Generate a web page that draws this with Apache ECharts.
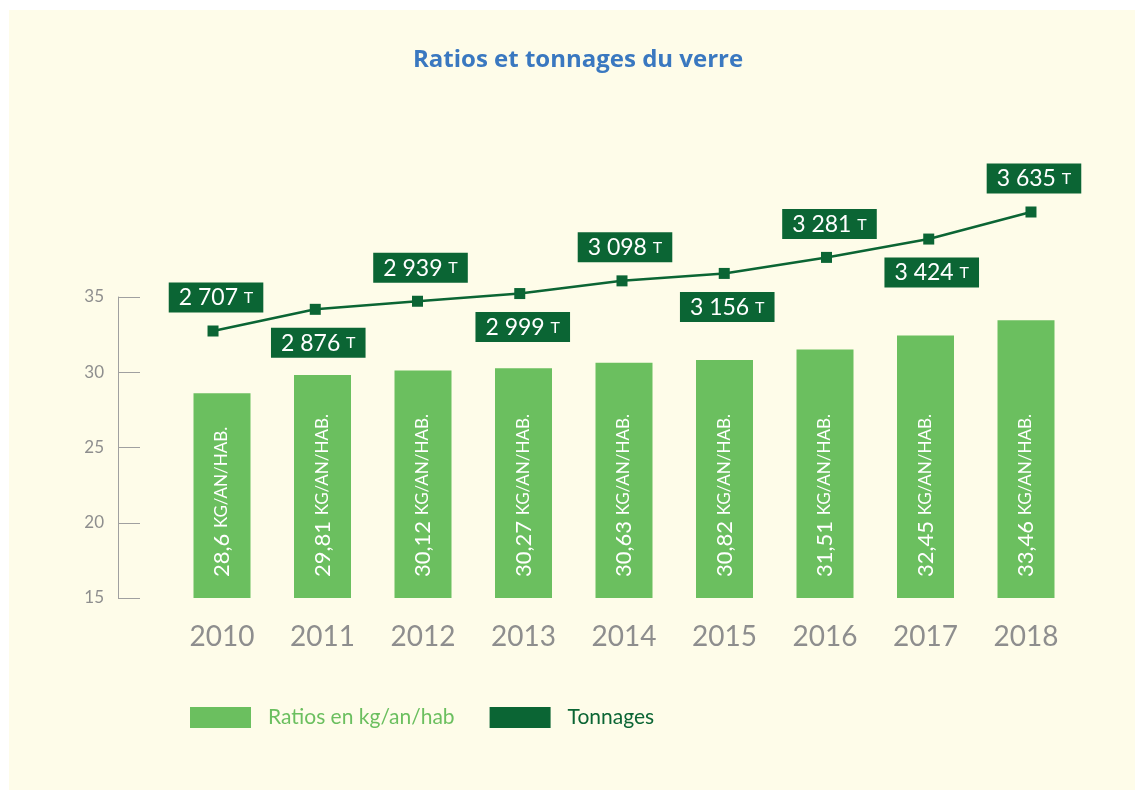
<!DOCTYPE html>
<html><head><meta charset="utf-8">
<script src="https://cdn.jsdelivr.net/npm/echarts@6/dist/echarts.min.js"></script>
<style>
html,body{margin:0;padding:0;background:#fff;width:1135px;height:793px;overflow:hidden}
#bg{position:absolute;left:9px;top:10px;right:0;bottom:3px;background:#FEFCE9}
#c{position:absolute;left:0;top:0;width:1135px;height:793px}
</style></head>
<body><div id="bg"></div><div id="c"></div>
<script>
const years = ['2010','2011','2012','2013','2014','2015','2016','2017','2018'];
const ratios = [28.6, 29.81, 30.12, 30.27, 30.63, 30.82, 31.51, 32.45, 33.46];
const tonnages = [2707, 2876, 2939, 2999, 3098, 3156, 3281, 3424, 3635];
const yTicks = [15, 20, 25, 30, 35];

const LIGHT = '#6BBF5F', DARK = '#0B6534', GREY = '#8E8E8E';
const FONT = 'Lato';
const fmtNum = v => String(v).replace('.', ',');
const fmtT = v => String(v).replace(/\B(?=(\d{3})+(?!\d))/g, ' ');

const chart = echarts.init(document.getElementById('c'), null, {renderer: 'canvas'});
chart.setOption({
  animation: false,
  backgroundColor: 'transparent',
  title: {
    text: 'Ratios et tonnages du verre',
    left: 408, top: 43,
    textStyle: {color: '#3A78C0', fontFamily: 'Open Sans', fontWeight: 'bold', fontSize: 24}
  },
  legend: {
    left: 185, top: 702,
    itemWidth: 61, itemHeight: 21, itemGap: 35,
    data: [
      {name: 'Ratios en kg/an/hab', icon: 'rect', textStyle: {color: LIGHT}},
      {name: 'Tonnages', icon: 'rect', textStyle: {color: DARK}}
    ],
    textStyle: {fontFamily: FONT, fontSize: 21, padding: [0, 0, 0, 12]}
  },
  grid: [
    {left: 171.75, right: 58.75, top: 297, bottom: 195},
    {left: 161.9, right: 52.9, top: 150, bottom: 195}
  ],
  xAxis: [{
    type: 'category', data: years, gridIndex: 0,
    axisLine: {show: false}, axisTick: {show: false},
    axisLabel: {color: GREY, fontFamily: FONT, fontSize: 28, margin: 25}
  }, {
    type: 'category', data: years, gridIndex: 1, show: false
  }],
  yAxis: [{
    type: 'value', min: yTicks[0], max: yTicks[yTicks.length - 1], interval: 5,
    gridIndex: 0, offset: 53.75,
    axisLine: {show: true, lineStyle: {color: '#A0A0A0', width: 1}},
    axisTick: {show: true, inside: true, length: 22, lineStyle: {color: '#A0A0A0'}},
    splitLine: {show: false},
    axisLabel: {color: GREY, fontFamily: FONT, fontSize: 17, margin: 14}
  }, {
    type: 'value', gridIndex: 1, min: 624.9, max: 4118.5, show: false, splitLine: {show: false}
  }],
  series: [{
    name: 'Ratios en kg/an/hab', type: 'bar', data: ratios, barWidth: 57,
    xAxisIndex: 0, yAxisIndex: 0,
    itemStyle: {color: LIGHT},
    label: {
      show: true, position: 'insideBottom', rotate: 90, align: 'left', verticalAlign: 'middle',
      distance: 21,
      formatter: p => '{n|' + fmtNum(p.value) + ' }{s|KG/AN/HAB.}',
      rich: {
        n: {color: '#fff', fontFamily: FONT, fontSize: 22},
        s: {color: '#fff', fontFamily: FONT, fontSize: 17}
      }
    }
  }, {
    name: 'Tonnages', type: 'line', xAxisIndex: 1, yAxisIndex: 1,
    data: tonnages.map((v, i) => ({
      value: v,
      label: {position: i % 2 === 0 ? 'top' : 'bottom'}
    })),
    symbol: 'rect', symbolSize: 11,
    lineStyle: {color: DARK, width: 2.5},
    itemStyle: {color: DARK},
    label: {
      show: true, distance: 13, offset: [3, 0],
      backgroundColor: DARK, padding: [3, 10, 2, 10],
      formatter: p => '{n|' + fmtT(p.value) + ' }{t|T}',
      rich: {
        n: {color: '#fff', fontFamily: FONT, fontSize: 23, lineHeight: 25},
        t: {color: '#fff', fontFamily: FONT, fontSize: 16, lineHeight: 25}
      }
    }
  }]
});
</script></body></html>
